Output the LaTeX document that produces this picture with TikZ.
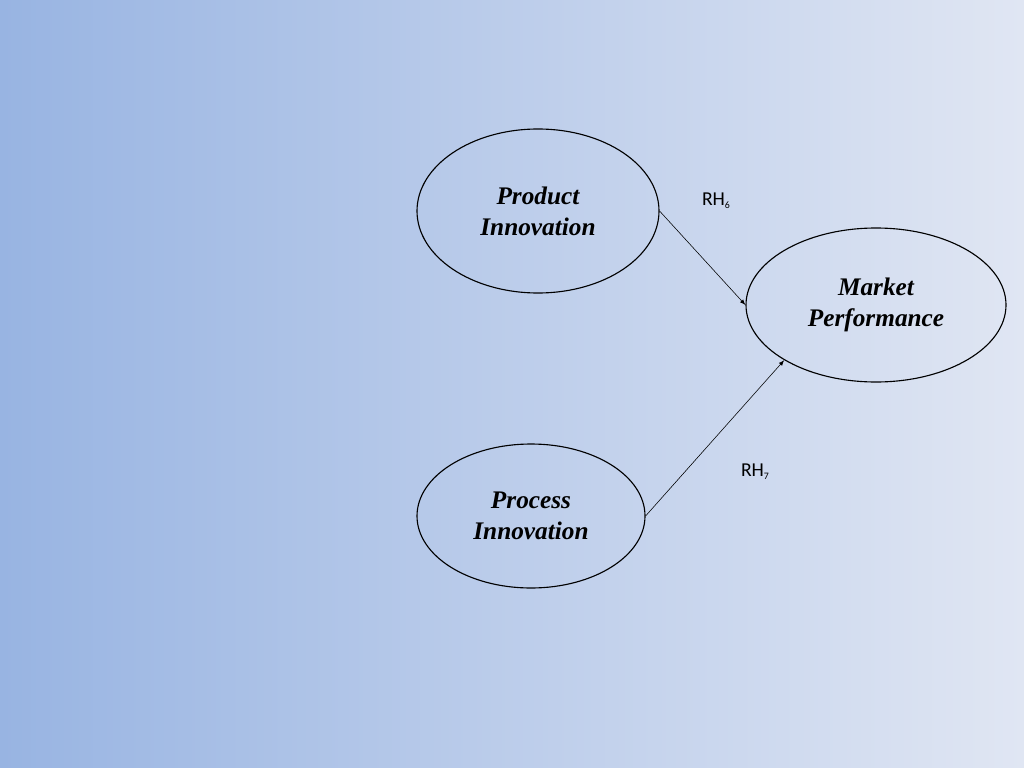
\documentclass[tikz,border=0pt]{standalone}
\usepackage{fontspec}
\setmainfont{Liberation Serif}
\newfontfamily\labelfont{Carlito}
\usetikzlibrary{shapes.geometric}
\definecolor{bgleft}{RGB}{152,180,226}
\definecolor{bgright}{RGB}{224,230,243}
\tikzset{
  construct/.style={shape=ellipse,draw=black,thick,font=\fontsize{18}{22}\selectfont\bfseries\itshape,align=center},
  hyp/.style={font=\labelfont\fontsize{14}{16}\selectfont}
}
\begin{document}
\begin{tikzpicture}[x=0.025cm,y=-0.025cm]
\shade[left color=bgleft,right color=bgright] (0,0) rectangle (1024,768);
\useasboundingbox (0,0) rectangle (1024,768);
\node (pd) at (538,211) [construct,minimum width=242*0.025cm,minimum height=164*0.025cm] {Product\\Innovation};
\node (mp) at (876,305) [construct,minimum width=260*0.025cm,minimum height=154*0.025cm] {Market\\Performance};
\node (pc) at (531,516) [construct,minimum width=228*0.025cm,minimum height=144*0.025cm] {Process\\Innovation};
\draw[-latex] (pd.east) -- (mp.west);
\draw[-latex] (pc.east) -- (mp.211);
\node (h6) at (716,201) [hyp] {RH\raisebox{-0.3ex}{\scriptsize 6}};
\node (h7) at (755,472) [hyp] {RH\raisebox{-0.3ex}{\scriptsize 7}};
\end{tikzpicture}
\end{document}
